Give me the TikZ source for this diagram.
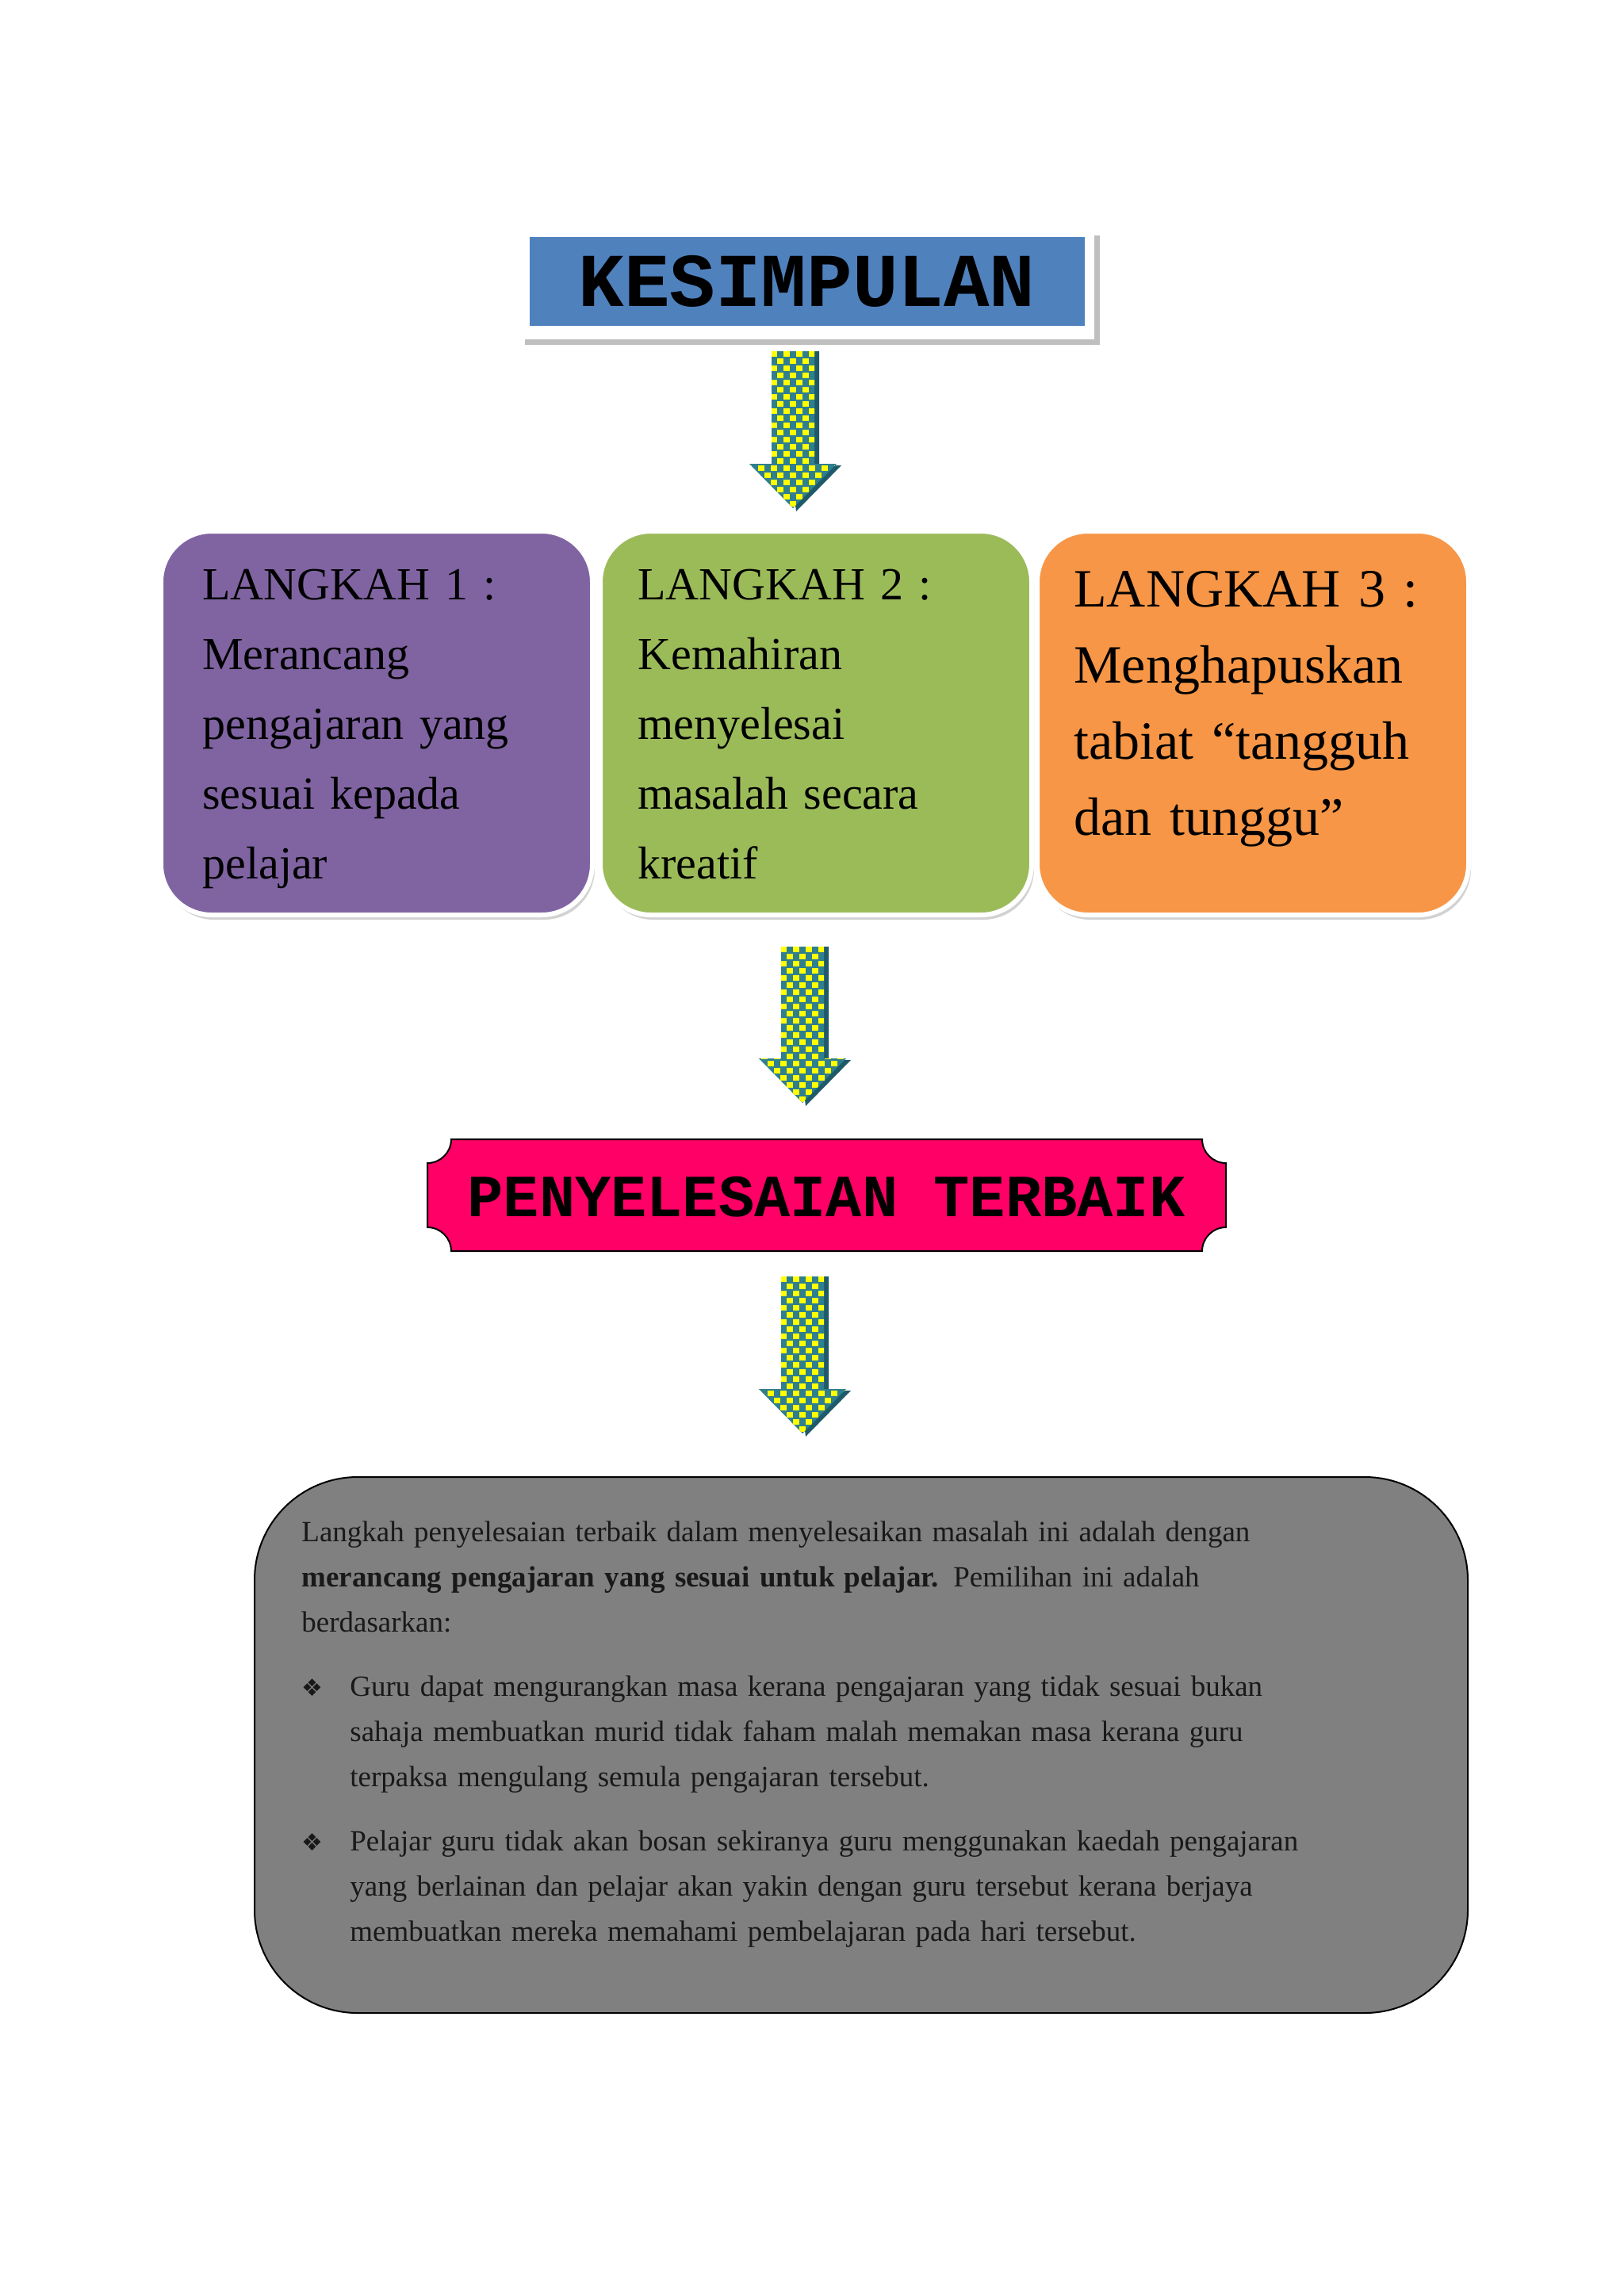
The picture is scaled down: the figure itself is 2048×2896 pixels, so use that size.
\documentclass[tikz,border=0pt]{standalone}
\usepackage{fontspec}
\setmainfont{Liberation Serif}
\newfontfamily\cour{Liberation Mono}
\newfontfamily\djv{DejaVu Sans}
\usetikzlibrary{shadows}
\definecolor{tblue}{HTML}{4F81BD}
\definecolor{lpurple}{HTML}{8064A2}
\definecolor{lgreen}{HTML}{9BBB59}
\definecolor{lorange}{HTML}{F79646}
\definecolor{pinkred}{HTML}{FF0066}
\definecolor{teal}{HTML}{2F7F8F}
\definecolor{dteal}{HTML}{1F5A6A}
\definecolor{ayel}{HTML}{FFFF00}
\tikzset{
 stepbox/.style={draw=white,line width=3pt,rounded corners=32pt,drop shadow={shadow xshift=1.5pt,shadow yshift=-3pt,opacity=0.35},inner sep=0pt},
 boxtxt/.style={anchor=north west,align=left,text width=250pt,font=\fontsize{29}{44}\selectfont,inner sep=0pt},
}
\newcommand{\patarrow}[3]{% cx, ytop, ybottom (px)
 \fill[dteal] (#1-27+6,#2) -- (#1+27+6,#2) -- (#1+27+6,#3-58) -- (#1+55+6,#3-58) -- (#1+4,#3) -- cycle;
 \begin{scope}
 \clip (#1-27,#2) -- (#1+27,#2) -- (#1+27,#3-60) -- (#1+55,#3-60) -- (#1,#3-4) -- (#1-55,#3-60) -- (#1-27,#3-60) -- cycle;
 \fill[teal] (#1-60,#2) rectangle (#1+60,#3);
 \foreach \j in {0,...,24}{
  \pgfmathsetmacro\yy{#2+\j*9}
  \pgfmathsetmacro\off{mod(\j,2)*8}
  \foreach \i in {0,...,7}{
   \fill[ayel] (#1-60+\i*16+\off,\yy) rectangle ++(8,7);
  }
 }
 \end{scope}
}
\begin{document}
\begin{tikzpicture}[x=0.5pt,y=-0.5pt]
\useasboundingbox[fill=white] (0,0) rectangle (2048,2896);
% title
\fill[black!25] (662,297) rectangle (1387,435);
\fill[white] (655,290) rectangle (1380,428);
\node[fill=tblue,minimum width=350pt,minimum height=56pt,inner sep=0pt] (title) at (1017.5,355) {\cour\bfseries\fontsize{48}{48}\selectfont KESIMPULAN};
% arrow 1
\coordinate (a1) at (1000,443);
\patarrow{1000}{443}{645}
% boxes
\node[stepbox,fill=lpurple,minimum width=272pt,minimum height=242pt] (b1) at (475,912) {};
\node[stepbox,fill=lgreen,minimum width=272pt,minimum height=242pt] (b2) at (1029,912) {};
\node[stepbox,fill=lorange,minimum width=272pt,minimum height=242pt] (b3) at (1580,912) {};
\node[boxtxt] (t1) at (255,718) {LANGKAH 1 :\\Merancang\\pengajaran yang\\sesuai kepada\\pelajar};
\node[boxtxt] (t2) at (804,718) {LANGKAH 2 :\\Kemahiran\\menyelesai\\masalah secara\\kreatif};
\node[boxtxt,font=\fontsize{34}{48}\selectfont] (t3) at (1354,720) {LANGKAH 3 :\\Menghapuskan\\tabiat “tangguh\\dan tunggu”};
% arrow 2
\patarrow{1012}{1194}{1395}
% penyelesaian
\def\r{30}
\filldraw[fill=pinkred,draw=black,line width=1pt]
 (539+\r,1437) -- (1546-\r,1437)
 .. controls (1546-\r,1437+0.55*\r) and (1546-0.55*\r,1437+\r) .. (1546,1437+\r)
 -- (1546,1578-\r)
 .. controls (1546-0.55*\r,1578-\r) and (1546-\r,1578-0.55*\r) .. (1546-\r,1578)
 -- (539+\r,1578)
 .. controls (539+\r,1578-0.55*\r) and (539+0.55*\r,1578-\r) .. (539,1578-\r)
 -- (539,1437+\r)
 .. controls (539+0.55*\r,1437+\r) and (539+\r,1437+0.55*\r) .. (539+\r,1437) -- cycle;
\node (pen) at (1042,1510) {\cour\bfseries\fontsize{37.7}{38}\selectfont PENYELESAIAN TERBAIK};
% arrow 3
\patarrow{1012}{1610}{1812}
% gray box
\node[draw=black,line width=1pt,fill=black!50,rounded corners=65pt,minimum width=765pt,minimum height=338pt] (gb) at (1086,2201) {};
\node[anchor=north west,inner sep=0pt,text width=706.5pt,font=\fontsize{18.5}{28.5}\selectfont,color=black!90] (gt) at (380,1918) {%
Langkah penyelesaian terbaik dalam menyelesaikan masalah ini adalah dengan\linebreak
\textbf{merancang pengajaran yang sesuai untuk pelajar.} Pemilihan ini adalah\linebreak
berdasarkan:\par\vspace{12pt}
\hangindent=30.5pt\hangafter=1\noindent\makebox[30.5pt][l]{\djv\fontsize{15}{15}\selectfont ❖}Guru dapat mengurangkan masa kerana pengajaran yang tidak sesuai bukan\linebreak
sahaja membuatkan murid tidak faham malah memakan masa kerana guru\linebreak
terpaksa mengulang semula pengajaran tersebut.\par\vspace{12pt}
\hangindent=30.5pt\hangafter=1\noindent\makebox[30.5pt][l]{\djv\fontsize{15}{15}\selectfont ❖}Pelajar guru tidak akan bosan sekiranya guru menggunakan kaedah pengajaran\linebreak
yang berlainan dan pelajar akan yakin dengan guru tersebut kerana berjaya\linebreak
membuatkan mereka memahami pembelajaran pada hari tersebut.\par};
\end{tikzpicture}
\end{document}
